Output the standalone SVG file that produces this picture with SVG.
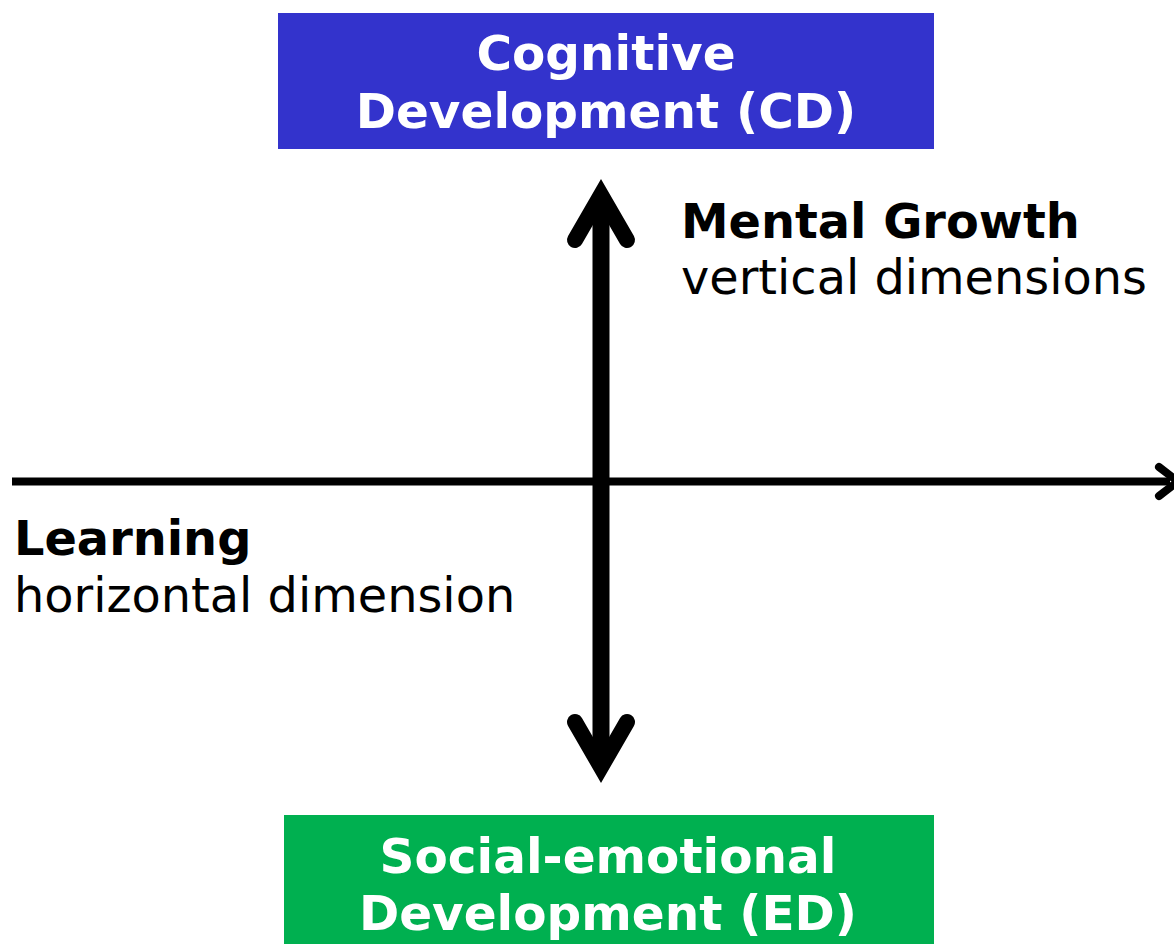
<svg xmlns="http://www.w3.org/2000/svg" width="1174" height="944" viewBox="0 0 1174 944">
<style>
.box{font-family:"DejaVu Sans",Verdana,sans-serif;font-weight:bold;font-size:48.5px;fill:#ffffff;text-anchor:middle}
.lbl{font-family:"DejaVu Sans",Verdana,sans-serif;font-size:47.8px;fill:#000000}
.b{font-weight:bold}
.ln{fill:none;stroke:#000;stroke-linejoin:miter;stroke-linecap:round;stroke-miterlimit:6}
</style>
<rect width="1174" height="944" fill="#ffffff"/>
<g id="connectors">
  <line x1="12" y1="481.5" x2="1170" y2="481.5" stroke="#000" stroke-width="8"/>
  <polyline class="ln" points="1159,467 1178,481.5 1159,496" stroke-width="8"/>
  <line x1="601" y1="200" x2="601" y2="765" stroke="#000" stroke-width="17"/>
  <polyline class="ln" points="575,240 601,195 627,240" stroke-width="16"/>
  <polyline class="ln" points="575,722 601,767 627,722" stroke-width="16"/>
</g>
<g id="node-cd">
  <rect x="278" y="13" width="656" height="136" fill="#3333CC"/>
  <text class="box" x="606" y="70">Cognitive</text>
  <text class="box" x="606" y="128">Development (CD)</text>
</g>
<g id="node-ed">
  <rect x="284" y="815" width="650" height="129" fill="#00B050"/>
  <text class="box" x="608" y="873">Social-emotional</text>
  <text class="box" x="608" y="930">Development (ED)</text>
</g>
<g id="label-mental">
  <text class="lbl b" x="681" y="238">Mental Growth</text>
  <text class="lbl" x="681" y="294">vertical dimensions</text>
</g>
<g id="label-learning">
  <text class="lbl b" x="14" y="555">Learning</text>
  <text class="lbl" x="14" y="612">horizontal dimension</text>
</g>
</svg>
